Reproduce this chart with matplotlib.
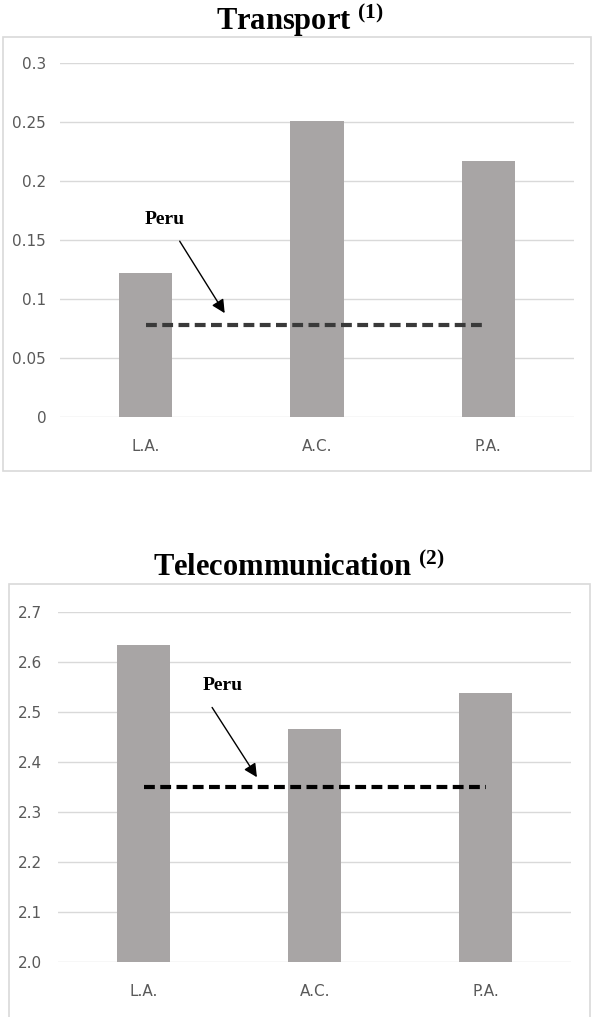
import matplotlib
matplotlib.use('Agg')
import matplotlib.pyplot as plt
from matplotlib.patches import Rectangle

categories = ['L.A.', 'A.C.', 'P.A.']
transport = [0.122, 0.251, 0.217]
peru_transport = 0.078
transport_ticks = [0, 0.05, 0.1, 0.15, 0.2, 0.25, 0.3]
transport_labels = ['0', '0.05', '0.1', '0.15', '0.2', '0.25', '0.3']

telecom = [2.635, 2.466, 2.539]
peru_telecom = 2.35
telecom_ticks = [2.0, 2.1, 2.2, 2.3, 2.4, 2.5, 2.6, 2.7]
telecom_labels = ['2.0', '2.1', '2.2', '2.3', '2.4', '2.5', '2.6', '2.7']

plt.rcParams['mathtext.fontset'] = 'custom'
plt.rcParams['mathtext.bf'] = 'Liberation Serif:bold'
plt.rcParams['mathtext.rm'] = 'Liberation Serif:bold'

bar_color = '#a8a5a5'
grid_color = '#d9d9d9'
tick_color = '#595959'

fig = plt.figure(figsize=(5.92, 10.17), dpi=100)

# panel frames
fig.add_artist(Rectangle((0.005, 0.537), 0.993, 0.4267, transform=fig.transFigure,
                         fill=False, edgecolor=grid_color, lw=1.2))
fig.add_artist(Rectangle((0.0152, -0.01), 0.981, 0.4358, transform=fig.transFigure,
                         fill=False, edgecolor=grid_color, lw=1.2))


def panel(rect, values, peru, peru_end, ticks, labels, ylim, dash_color,
          text_xy, arrow_start, arrow_end, pad_y):
    ax = fig.add_axes(rect)
    x = range(len(categories))
    ax.bar(x, values, width=0.31, color=bar_color, zorder=2)
    ax.plot([0, peru_end], [peru, peru], color=dash_color, lw=3,
            dashes=(2.6, 1.3), zorder=3)
    ax.set_xlim(-0.5, 2.5)
    ax.set_ylim(*ylim)
    ax.set_yticks(ticks)
    ax.set_yticklabels(labels)
    ax.set_xticks(list(x))
    ax.set_xticklabels(categories)
    for s in ax.spines.values():
        s.set_visible(False)
    ax.grid(axis='y', color=grid_color, lw=1, zorder=0)
    ax.tick_params(axis='both', length=0, colors=tick_color, labelsize=11)
    ax.tick_params(axis='x', pad=16)
    ax.tick_params(axis='y', pad=pad_y)
    ax.text(text_xy[0], text_xy[1], 'Peru', family='Liberation Serif',
            weight='bold', fontsize=14, ha='center', va='center')
    ax.annotate('', xy=arrow_end, xytext=arrow_start,
                arrowprops=dict(arrowstyle='-|>', color='black', lw=1,
                                mutation_scale=20))
    return ax


panel([0.1014, 0.590, 0.868, 0.348], transport, peru_transport, 1.97,
      transport_ticks, transport_labels, (0, 0.3), '#3a3a3a',
      (0.11, 0.167), (0.19, 0.151), (0.47, 0.086), 10)

panel([0.0988, 0.0541, 0.866, 0.344], telecom, peru_telecom, 2.0,
      telecom_ticks, telecom_labels, (2.0, 2.7), 'black',
      (0.46, 2.554), (0.39, 2.514), (0.67, 2.365), 12)

fig.text(0.507, 0.9705, r'Transport $^{\mathbf{(1)}}$', family='Liberation Serif',
         weight='bold', fontsize=22, ha='center', va='baseline')
fig.text(0.505, 0.4336, r'Telecommunication $^{\mathbf{(2)}}$', family='Liberation Serif',
         weight='bold', fontsize=22, ha='center', va='baseline')

fig.savefig('out.png', dpi=100)
